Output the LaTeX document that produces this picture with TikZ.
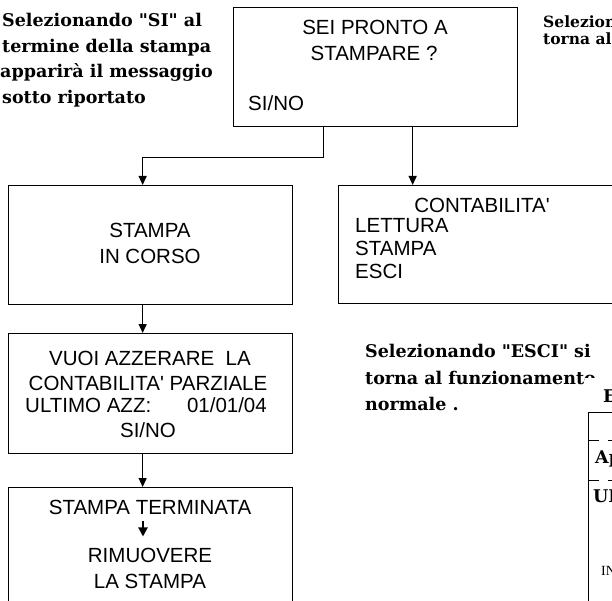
\documentclass[tikz,border=0pt]{standalone}
\usepackage{fontspec}
\newfontfamily\boxsans{Liberation Sans}
\newfontfamily\noteserif{DejaVu Serif}
\newfontfamily\tabserif{Liberation Serif}
\usetikzlibrary{arrows.meta}
\tikzset{
  box/.style={draw=black, line width=1.3pt, rectangle, inner sep=0pt, anchor=north west,
    minimum width=284pt, minimum height=119pt},
  lbl/.style={font=\boxsans\fontsize{20.5}{24}\selectfont, inner sep=0pt, anchor=base},
  lblw/.style={lbl, anchor=base west},
  note/.style={font=\noteserif\bfseries\fontsize{17.5}{20}\selectfont, inner sep=0pt, anchor=base west},
  smallnote/.style={font=\noteserif\bfseries\fontsize{15.5}{18}\selectfont, inner sep=0pt, anchor=base west},
  tabtxt/.style={font=\tabserif\fontsize{14}{16}\selectfont, inner sep=0pt, anchor=base west},
  arr/.style={line width=1.3pt, -{Triangle[length=9pt,width=8pt]}},
  thin/.style={line width=1pt, black}
}
\begin{document}
\begin{tikzpicture}[x=1pt,y=-1pt]
\useasboundingbox (0,0) rectangle (612,601);
\clip (0,0) rectangle (612,601);

% boxes
\node[box] (top) at (233,7) {};
\node[box] (corso) at (8,185) {};
\node[box, minimum height=118pt] (contab) at (338,185) {};
\node[box, minimum height=120pt] (vuoi) at (8,333) {};
\node[box] (term) at (8,487) {};

% top box text
\node[lbl] (t1) at (375,35) {SEI PRONTO A};
\node[lbl] (t2) at (374,61) {STAMPARE ?};
\node[lblw] (t3) at (248,111) {SI/NO};

% corso text
\node[lbl] (c1) at (150,238) {STAMPA};
\node[lbl] (c2) at (150,263) {IN CORSO};

% contab text
\node[lbl] (k1) at (482,213) {CONTABILITA'};
\node[lblw] (k2) at (355,233) {LETTURA};
\node[lblw] (k3) at (355,256) {STAMPA};
\node[lblw] (k4) at (355,278) {ESCI};

% vuoi text
\node[lbl] (v1) at (150,365) {VUOI AZZERARE\ \ LA};
\node[lbl] (v2) at (148,390) {CONTABILITA' PARZIALE};
\node[lblw] (v3) at (25,412) {ULTIMO AZZ:};
\node[lbl, anchor=base east] (v3b) at (267,412) {01/01/04};
\node[lbl] (v4) at (148,437) {SI/NO};

% term text
\node[lbl] (m1) at (150,514) {STAMPA TERMINATA};
\node[lbl] (m2) at (150,562) {RIMUOVERE};
\node[lbl] (m3) at (150,588) {LA STAMPA};
\draw[line width=2pt, -{Triangle[length=9pt,width=9pt]}, shorten <=7pt, shorten >=11pt]
  ([xshift=-7pt]m1.south) -- ([xshift=-7pt]m2.north);

% connectors
\draw[arr] ([xshift=-52pt]top.south) -- ++(0,30) -| ([xshift=-8pt]corso.north);
\draw[arr] ([xshift=37pt]top.south) -- ([xshift=37pt]top.south |- contab.north);
\draw[arr] ([xshift=-8pt]corso.south) -- ([xshift=-8pt]vuoi.north);
\draw[arr] ([xshift=-8pt]vuoi.south) -- ([xshift=-8pt]term.north);

% notes
\node[note] (n1) at (2,27) {Selezionando "SI" al};
\node[note] (n2) at (2,53) {termine della stampa};
\node[note] (n3) at (0,78) {apparirà il messaggio};
\node[note] (n4) at (2,104) {sotto riportato};

\node[smallnote] (r1) at (543,28) {Selezionando};
\node[smallnote] (r2) at (543,45) {torna al};

\node[note] (e1) at (365,357) {Selezionando "ESCI" si};
\node[note] (e2) at (365,384) {torna al funzionamento};
\node[note] (e3) at (365,410) {normale .};

% partially hidden table at bottom right
\fill[white] (585,378) rectangle (612,601);
\node[note] (h1) at (603,402) {E};
\draw[thin] (588,601) -- (588,412) -- (612,412);
\draw[thin, dash pattern=on 11pt off 9pt] (588,440) -- (612,440);
\draw[thin, dash pattern=on 11pt off 9pt] (588,480) -- (612,480);
\node[note] (a1) at (595,463) {Ap};
\node[note] (a2) at (593,502) {UL};
\node[tabtxt] (a3) at (601,575) {IN};
\end{tikzpicture}
\end{document}
